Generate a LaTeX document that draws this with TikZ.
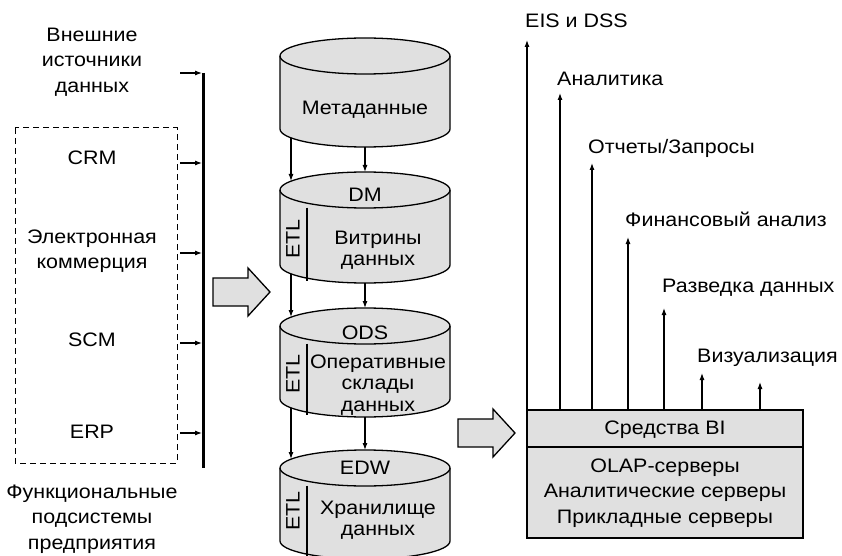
\documentclass[tikz,border=0pt]{standalone}
\usepackage{fontspec}
\setmainfont[FakeStretch=1.1]{Liberation Sans}
\usetikzlibrary{arrows.meta}
\definecolor{fillgray}{HTML}{E0E0E0}
\tikzset{
  thinarrow/.style={line width=1.1pt,-{Latex[length=7pt,width=5pt]}},
  cylline/.style={line width=1.3pt,fill=fillgray},
  lbl/.style={font=\fontsize{19.5}{25.5}\selectfont,align=center,inner sep=0pt},
  clbl/.style={font=\fontsize{19.5}{21.5}\selectfont,align=center,inner sep=0pt},
  blockarrow/.style={line width=1.3pt,fill=fillgray,line join=miter},
}
\newcommand\drawcyl[2]{% #1 top-centre Y, #2 bottom-centre Y
  \filldraw[cylline] (280,#1) -- (280,#2) arc[start angle=180,end angle=360,x radius=85,y radius=18] -- (450,#1) arc[start angle=0,end angle=180,x radius=85,y radius=18] -- cycle;
  \draw[line width=1.3pt] (280,#1) arc[start angle=180,end angle=360,x radius=85,y radius=18];
}
\begin{document}
\begin{tikzpicture}[x=1pt,y=1pt]
\useasboundingbox (0,0) rectangle (842,555);
\begin{scope}
\clip (0,0) rectangle (842,555);
% cylinders
\drawcyl{499}{426}
\drawcyl{365}{290}
\draw[line width=1.3pt] (307,347.5) -- (307,274.5);
\drawcyl{229}{156}
\draw[line width=1.3pt] (307,211.5) -- (307,140.5);
\drawcyl{87}{14}
\draw[line width=1.3pt] (307,69.5) -- (307,-2);
\end{scope}
% cylinder labels
\node[clbl] (meta) at (365,445) {Метаданные};
\node[clbl] (dm) at (365,360) {DM};
\node[clbl] (dmtxt) at (378,305) {Витрины\\данных};
\node[clbl,rotate=90] (etl1) at (293,316) {ETL};
\node[clbl] (ods) at (365,222) {ODS};
\node[clbl] (odstxt) at (378,170) {Оперативные\\склады\\данных};
\node[clbl,rotate=90] (etl2) at (293,181) {ETL};
\node[clbl] (edw) at (365,87) {EDW};
\node[clbl] (edwtxt) at (378,35) {Хранилище\\данных};
\node[clbl,rotate=90] (etl3) at (293,44) {ETL};
% cylinder connectors
\coordinate (m1) at (291,417); \coordinate (d1) at (291,374);
\coordinate (m2) at (365,408); \coordinate (d2) at (365,383);
\coordinate (d3) at (291,281); \coordinate (o1) at (291,238);
\coordinate (d4) at (365,272); \coordinate (o2) at (365,247);
\coordinate (o3) at (291,147); \coordinate (e1) at (291,96);
\coordinate (o4) at (365,138); \coordinate (e2) at (365,105);
\draw[thinarrow] (m1) -- (d1);
\draw[thinarrow] (m2) -- (d2);
\draw[thinarrow] (d3) -- (o1);
\draw[thinarrow] (d4) -- (o2);
\draw[thinarrow] (o3) -- (e1);
\draw[thinarrow] (o4) -- (e2);
% left side
\node[lbl] (ext) at (92,493) {Внешние\\источники\\данных};
\draw[dashed,line width=1pt,dash pattern=on 6pt off 4pt] (15,427) rectangle (177,92);
\node[lbl] (crm) at (92,397) {CRM};
\node[lbl] (ecom) at (92,304) {Электронная\\коммерция};
\node[lbl] (scm) at (92,215) {SCM};
\node[lbl] (erp) at (92,123) {ERP};
\node[lbl] (func) at (92,36) {Функциональные\\подсистемы\\предприятия};
\coordinate (bartop) at (203,482);
\coordinate (barbot) at (203,87);
\draw[line width=3pt] (bartop) -- (barbot);
\foreach \yy/\nm in {482/a,392/b,302/c,212/d,122/e}{
  \coordinate (s\nm) at (180,\yy);
  \coordinate (t\nm) at (202,\yy);
  \draw[thinarrow] (s\nm) -- (t\nm);
}
% block arrows
\draw[blockarrow] (213,249) -- (248,249) -- (248,239) -- (270,263) -- (248,287) -- (248,277) -- (213,277) -- cycle;
\draw[blockarrow] (458,108) -- (493,108) -- (493,98) -- (515,122) -- (493,146) -- (493,136) -- (458,136) -- cycle;
% BI box
\draw[line width=1.3pt,fill=fillgray] (527,145) rectangle (803,17);
\draw[line width=1.3pt] (527,108) -- (803,108);
\node[lbl] (bi) at (665,125) {Средства BI};
\node[lbl] (srv) at (665,62) {OLAP-серверы\\Аналитические серверы\\Прикладные серверы};
% output arrows
\foreach \xx/\yy/\nm in {527/515/a,560/462/b,592/392/c,628/318/d,664/247/e,702/182/f,760/173/g}{
  \coordinate (b\nm) at (\xx,145);
  \coordinate (u\nm) at (\xx,\yy);
  \draw[thinarrow] (b\nm) -- (u\nm);
}
\node[lbl,anchor=west] (eis) at (525,534) {EIS и DSS};
\node[lbl,anchor=west] (anl) at (557,476) {Аналитика};
\node[lbl,anchor=west] (rep) at (588,407) {Отчеты/Запросы};
\node[lbl,anchor=west] (fin) at (625,336) {Финансовый анализ};
\node[lbl,anchor=west] (dmn) at (662,267) {Разведка данных};
\node[lbl,anchor=west] (vis) at (697,197) {Визуализация};
\end{tikzpicture}
\end{document}
